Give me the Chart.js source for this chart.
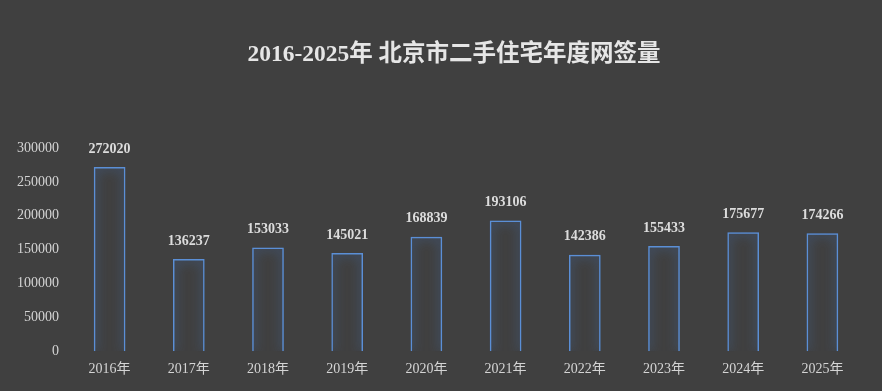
<!DOCTYPE html>
<html>
<head>
<meta charset="utf-8">
<script src="https://cdn.jsdelivr.net/npm/chart.js@4/dist/chart.umd.min.js"></script>
<style>
  html, body { margin: 0; padding: 0; background: #404040; }
  #wrap { width: 882px; height: 391px; }
</style>
</head>
<body>
<div id="wrap"><canvas id="chart" width="882" height="391"></canvas></div>
<script>
const chartTitle = '2016-2025年 北京市二手住宅年度网签量';
const years = ['2016年', '2017年', '2018年', '2019年', '2020年', '2021年', '2022年', '2023年', '2024年', '2025年'];
const sales = [272020, 136237, 153033, 145021, 168839, 193106, 142386, 155433, 175677, 174266];
const yTicks = [0, 50000, 100000, 150000, 200000, 250000, 300000];

const serif = "'Liberation Serif', 'Noto Sans CJK SC', serif";

// glow round the bars
const glow = {
    id: 'glow',
    beforeDatasetDraw(chart) {
        const ctx = chart.ctx;
        ctx.save();
        ctx.shadowColor = 'rgba(70, 130, 220, 0.95)';
        ctx.shadowBlur = 11;
    },
    afterDatasetDraw(chart) {
        chart.ctx.restore();
    }
};

// numbers over the bars + title (the title sits a bit right of centre)
const labelsAndTitle = {
    id: 'labelsAndTitle',
    afterDatasetsDraw(chart) {
        const ctx = chart.ctx;
        const meta = chart.getDatasetMeta(0);
        ctx.save();
        ctx.font = 'bold 14px ' + serif;
        ctx.fillStyle = '#dcdcdc';
        ctx.textAlign = 'center';
        ctx.textBaseline = 'bottom';
        meta.data.forEach((bar, i) => {
            ctx.fillText(String(sales[i]), bar.x, bar.y - 11);
        });

        ctx.font = 'bold 23.5px ' + serif;
        ctx.fillStyle = '#e6e6e6';
        ctx.textBaseline = 'middle';
        ctx.fillText(chartTitle, 454, 55);
        ctx.restore();
    }
};

new Chart(document.getElementById('chart'), {
    type: 'bar',
    data: {
        labels: years,
        datasets: [{
            data: sales,
            backgroundColor: 'rgba(0, 0, 0, 0)',
            borderColor: '#5b8fd6',
            borderWidth: 1.5,
            barPercentage: 0.8,
            categoryPercentage: 0.5
        }]
    },
    options: {
        responsive: false,
        animation: false,
        layout: { padding: { left: 6, right: 20, top: 148, bottom: 3 } },
        plugins: {
            legend: { display: false },
            tooltip: { enabled: false },
            title: { display: false }
        },
        scales: {
            x: {
                grid: { display: false, drawTicks: false },
                border: { display: false },
                ticks: { color: '#d4d4d4', font: { family: serif, size: 14 }, padding: 10 }
            },
            y: {
                min: 0,
                max: 300000,
                afterBuildTicks: (axis) => { axis.ticks = yTicks.map(v => ({ value: v })); },
                grid: { display: false, drawTicks: false },
                border: { display: false },
                ticks: {
                    color: '#d4d4d4',
                    font: { family: serif, size: 14 },
                    padding: 11,
                    callback: (v) => String(v)
                }
            }
        }
    },
    plugins: [glow, labelsAndTitle]
});
</script>
</body>
</html>
